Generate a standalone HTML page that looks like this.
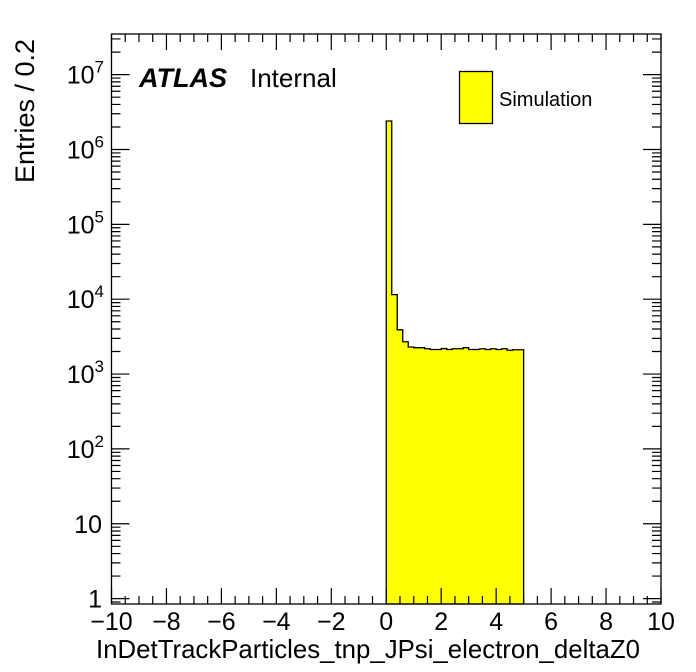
<!DOCTYPE html>
<html><head><meta charset="utf-8"><style>
body{margin:0;background:#fff}
svg{display:block;font-family:"Liberation Sans",Arial,sans-serif}
</style></head><body>
<svg id="c" width="696" height="672" viewBox="0 0 696 672">
<rect width="696" height="672" fill="#fff"/>
<g id="hist"></g>
<g id="axes"></g>
<text x="139" y="87" font-size="27" font-weight="bold" font-style="italic">ATLAS</text>
<text x="250" y="87" font-size="26">Internal</text>
<rect x="459.5" y="71.5" width="33" height="52" fill="#ffff00" stroke="#000" stroke-width="1.3"/>
<text x="499" y="106" font-size="20">Simulation</text>
<text transform="translate(34,111) rotate(-90)" text-anchor="middle" font-size="27">Entries / 0.2</text>
<text x="368" y="658" text-anchor="middle" font-size="25.8">InDetTrackParticles_tnp_JPsi_electron_deltaZ0</text>
</svg>
<script>
const binLow = 0.0;
const binWidth = 0.2;
const counts = [2400000, 11500, 3900, 2700, 2300, 2250, 2250, 2180, 2130, 2130, 2190, 2130, 2180, 2180, 2250, 2130, 2130, 2180, 2130, 2180, 2130, 2180, 2080, 2110, 2110];
const xTicks = [-10,-8,-6,-4,-2,0,2,4,6,8,10];
const yDecades = [0,1,2,3,4,5,6,7];
const yLabels = ["1","10","10^2","10^3","10^4","10^5","10^6","10^7"];

const L=111.5,R=661,T=34,B=604;
const xmin=-10,xmax=10,lymin=-0.072,lymax=7.543;
const X=v=>L+(v-xmin)/(xmax-xmin)*(R-L);
const Y=v=>B-(Math.log10(v)-lymin)/(lymax-lymin)*(B-T);
const NS="http://www.w3.org/2000/svg";
function mk(tag,attrs,parent){const e=document.createElementNS(NS,tag);for(const k in attrs)e.setAttribute(k,attrs[k]);parent.appendChild(e);return e;}
const hist=document.getElementById('hist'),axes=document.getElementById('axes');

let d=`M${X(binLow)},${B}`;
counts.forEach((c,i)=>{const x0=X(binLow+i*binWidth),x1=X(binLow+(i+1)*binWidth),y=Y(c);d+=` L${x0},${y} L${x1},${y}`;});
d+=` L${X(binLow+counts.length*binWidth)},${B} Z`;
const h=mk('path',{d:d,fill:'#ffff00',stroke:'#000','stroke-width':1.3},hist);



const fr=mk('rect',{x:L,y:T,width:R-L,height:B-T,fill:'none',stroke:'#000','stroke-width':1.3},axes);



let td='';
for(let v=-10;v<=10.001;v+=0.5){const x=X(v);const major=Math.abs(v/2-Math.round(v/2))<1e-6;const len=major?16:8;td+=`M${x},${B}v${-len}M${x},${T}v${len}`;}
for(let dcd=-1;dcd<=7;dcd++){for(let m=1;m<=9;m++){const v=m*Math.pow(10,dcd);const lv=Math.log10(v);if(lv<lymin||lv>lymax)continue;const len=m===1?18:9;const y=Y(v);td+=`M${L},${y}h${len}M${R},${y}h${-len}`;}}
const tk=mk('path',{d:td,stroke:'#000','stroke-width':1.2,fill:'none'},axes);



xTicks.forEach(v=>{const t=mk('text',{x:X(v),y:630,'text-anchor':'middle','font-size':25},axes);t.textContent=(v<0?'\u2212':'')+Math.abs(v);

});

yDecades.forEach((dc,i)=>{const y=Y(Math.pow(10,dc));const t=mk('text',{x:102,y:y+9,'text-anchor':'end','font-size':25},axes);
const lab=yLabels[i];
if(lab.indexOf('^')>=0){const p=lab.split('^');t.textContent=p[0];const s=mk('tspan',{'font-size':17,dy:-11},t);s.textContent=p[1];t.setAttribute('x',104);}
else t.textContent=lab;

});
</script>
</body></html>
